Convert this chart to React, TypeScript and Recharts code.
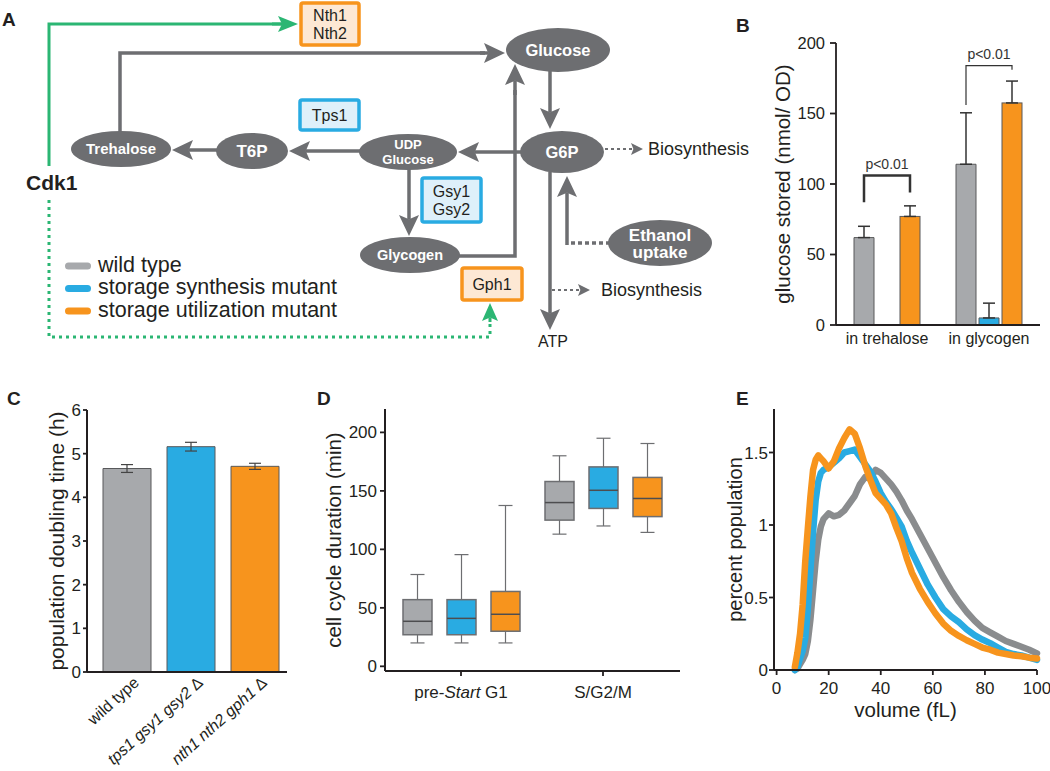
import React from 'react'
import { BarChart, Bar, XAxis, YAxis, ErrorBar, Cell, LineChart, Line } from 'recharts'

const FONT = '"Liberation Sans", Arial, Helvetica, sans-serif'
const INK = '#231f20'
const GRAY = '#a7a9ac'
const BLUE = '#29abe2'
const ORANGE = '#f7941d'
const LINE_GRAY = '#8a8c8e'
const NODE = '#6d6e71'
const GREEN = '#2bb673'
const EDGE = '#58595b'

// legend (shared by all panels)
const groupNames = ['wild type', 'storage synthesis mutant', 'storage utilization mutant']
const groupColors = [GRAY, BLUE, ORANGE]

// B: glucose stored (nmol/ OD)
const storeCats = ['in trehalose', 'in glycogen']
const storeWt = [62, 114]
const storeWtErr = [8, 36.5]
const storeSynth = [null, 5]
const storeSynthErr = [null, 10.5]
const storeUtil = [77, 157.5]
const storeUtilErr = [7.5, 15.5]
// significance brackets (data units): bracket top, left leg end, right leg end
const sigTop = [106, 184]
const sigLeft = [87, 156]
const sigRight = [94, 181]

// C: population doubling time (h)
const strains = ['wild type', 'tps1 gsy1 gsy2 Δ', 'nth1 nth2 gph1 Δ']
const doublingTime = [4.66, 5.16, 4.71]
const doublingErr = [0.09, 0.1, 0.07]

// D: cell cycle duration (min), [min, q1, median, q3, max]
const phases = ['pre-Start G1', 'S/G2/M']
const wtBox = [[20, 27, 38.5, 57, 78.5], [113, 125, 140, 158, 180]]
const synthBox = [[20, 27, 41, 57, 95.5], [120, 135, 150.5, 170.5, 195]]
const utilBox = [[20, 30, 44.5, 64, 137.5], [114.5, 128, 143.5, 161.5, 190.5]]

// E: percent population vs volume (fL)
const volume = [7, 8, 9, 10, 11, 12, 13, 14, 15, 16, 17, 18, 20, 22, 24, 26, 28, 30, 32, 34, 36, 38, 40, 42, 44, 46, 48, 50, 52, 55, 58, 61, 64, 67, 70, 73, 76, 79, 82, 85, 88, 91, 94, 97, 100]
const wtPct = [0, 0.01, 0.04, 0.07, 0.11, 0.2, 0.35, 0.55, 0.75, 0.9, 0.99, 1.04, 1.08, 1.06, 1.07, 1.1, 1.15, 1.2, 1.28, 1.33, 1.32, 1.38, 1.36, 1.32, 1.28, 1.23, 1.17, 1.1, 1.04, 0.94, 0.84, 0.74, 0.64, 0.55, 0.47, 0.4, 0.34, 0.29, 0.26, 0.23, 0.2, 0.18, 0.16, 0.14, 0.115]
const synthPct = [0, 0.02, 0.08, 0.13, 0.22, 0.42, 0.69, 0.95, 1.17, 1.3, 1.36, 1.38, 1.4, 1.43, 1.46, 1.5, 1.51, 1.52, 1.47, 1.42, 1.37, 1.3, 1.22, 1.16, 1.11, 1.05, 0.99, 0.89, 0.81, 0.7, 0.59, 0.5, 0.42, 0.37, 0.33, 0.28, 0.24, 0.21, 0.185, 0.155, 0.125, 0.11, 0.1, 0.085, 0.07]
const utilPct = [0.02, 0.12, 0.25, 0.45, 0.75, 0.98, 1.2, 1.38, 1.45, 1.48, 1.46, 1.44, 1.39, 1.44, 1.53, 1.6, 1.66, 1.63, 1.53, 1.41, 1.31, 1.22, 1.18, 1.14, 1.08, 0.98, 0.89, 0.77, 0.67, 0.56, 0.47, 0.39, 0.32, 0.27, 0.235, 0.205, 0.18, 0.155, 0.14, 0.12, 0.11, 0.1, 0.095, 0.085, 0.08]

const axisStyle = { stroke: INK, strokeWidth: 1.8 }
const tickStyle = (size: number) => ({ fill: INK, fontSize: size, fontFamily: FONT })

const yTitle = (text: string, dx: number, size: number) => (props: any) => {
  const vb = props.viewBox
  const cx = vb.x + dx
  const cy = vb.y + vb.height / 2
  return (
    <text x={cx} y={cy} transform={`rotate(-90 ${cx} ${cy})`} textAnchor="middle" dominantBaseline="central" fontSize={size} fill={INK} fontFamily={FONT}>
      {text}
    </text>
  )
}

const xTitle = (text: string, dy: number, size: number) => (props: any) => {
  const vb = props.viewBox
  return (
    <text x={vb.x + vb.width / 2} y={vb.y + dy} textAnchor="middle" fontSize={size} fill={INK} fontFamily={FONT}>
      {text}
    </text>
  )
}

// ---------- A: pathway diagram ----------
function Arrow({ x1, y1, x2, y2, color = NODE, w = 3.5, head = 21, half = 10, dash }: any) {
  const len = Math.hypot(x2 - x1, y2 - y1)
  const ux = (x2 - x1) / len
  const uy = (y2 - y1) / len
  const bx = x2 - ux * head
  const by = y2 - uy * head
  const nx = bx + ux * head * 0.2
  const ny = by + uy * head * 0.2
  return (
    <g>
      <line x1={x1} y1={y1} x2={nx} y2={ny} stroke={color} strokeWidth={w} strokeDasharray={dash} />
      <polygon points={`${x2},${y2} ${bx - uy * half},${by + ux * half} ${nx},${ny} ${bx + uy * half},${by - ux * half}`} fill={color} />
    </g>
  )
}

function Node({ cx, cy, rx, ry, lines, size, gap }: any) {
  const step = gap ?? size * 1.15
  return (
    <g>
      <ellipse cx={cx} cy={cy} rx={rx} ry={ry} fill={NODE} />
      {lines.map((t: string, i: number) => (
        <text key={t} x={cx} y={cy + (i - (lines.length - 1) / 2) * step + size * 0.36} textAnchor="middle" fill="#fff" fontWeight="bold" fontSize={size}>
          {t}
        </text>
      ))}
    </g>
  )
}

function GeneBox({ x, y, w, h, color, fill, lines }: any) {
  const cx = x + w / 2
  const cy = y + h / 2
  return (
    <g>
      <rect x={x} y={y} width={w} height={h} rx={2} fill={fill} stroke={color} strokeWidth={3.5} />
      {lines.map((t: string, i: number) => (
        <text key={t} x={cx} y={cy + (i - (lines.length - 1) / 2) * 18.5 + 5.8} textAnchor="middle" fontSize={16} fill={INK}>
          {t}
        </text>
      ))}
    </g>
  )
}

function Pathway() {
  const letter = { fontSize: 19, fontWeight: 'bold' as const, fill: INK }
  return (
    <svg width={1050} height={771} style={{ position: 'absolute', left: 0, top: 0 }} fontFamily={FONT}>
      <text x={2} y={26} {...letter}>A</text>
      <text x={736} y={32} {...letter}>B</text>
      <text x={7} y={405} {...letter}>C</text>
      <text x={317} y={405} {...letter}>D</text>
      <text x={736} y={405} {...letter}>E</text>

      {/* Cdk1 -> Nth1/Nth2 */}
      <polyline points="49,166 49,24 282,24" fill="none" stroke={GREEN} strokeWidth={3} />
      <Arrow x1={272} y1={24} x2={298} y2={24} color={GREEN} w={3} head={20} half={8} />
      <GeneBox x={301} y={3} w={58} h={42} color={ORANGE} fill="#fde8d4" lines={['Nth1', 'Nth2']} />

      {/* Cdk1 -> Gph1 */}
      <polyline points="49,200 49,337 490,337 490,322" fill="none" stroke={GREEN} strokeWidth={3} strokeDasharray="3 4" />
      <Arrow x1={490} y1={322} x2={490} y2={303} color={GREEN} w={3} head={18} half={8} />
      <GeneBox x={462} y={268} w={60} h={32} color={ORANGE} fill="#fde8d4" lines={['Gph1']} />

      {/* trehalose -> glucose */}
      <polyline points="120,132 120,53 485,53" fill="none" stroke={NODE} strokeWidth={3.5} />
      <Arrow x1={480} y1={53} x2={505} y2={53} />
      {/* glycogen -> glucose */}
      <polyline points="455,256 515,256 515,90" fill="none" stroke={NODE} strokeWidth={3.5} />
      <Arrow x1={515} y1={95} x2={515} y2={64} />

      <Arrow x1={550} y1={70} x2={550} y2={129} />
      <Arrow x1={522} y1={152} x2={458} y2={152} />
      <Arrow x1={360} y1={151} x2={289} y2={151} />
      <Arrow x1={218} y1={150} x2={172} y2={150} />
      <Arrow x1={409} y1={168} x2={409} y2={236} />
      <Arrow x1={550} y1={172} x2={550} y2={330} />

      <Arrow x1={605} y1={149} x2={643} y2={149} w={2} head={12} half={6} dash="3 3" />
      <Arrow x1={552} y1={290} x2={590} y2={290} w={2} head={12} half={6} dash="3 3" />
      <text x={648} y={155} fontSize={18} fill={INK}>Biosynthesis</text>
      <text x={601} y={296} fontSize={18} fill={INK}>Biosynthesis</text>
      <text x={553} y={347} fontSize={16} textAnchor="middle" fill={INK}>ATP</text>

      {/* ethanol uptake -> G6P */}
      <polyline points="610,243 567,243" fill="none" stroke={NODE} strokeWidth={3.5} strokeDasharray="4 3" />
      <Arrow x1={567} y1={245} x2={567} y2={176} />

      <GeneBox x={300} y={100} w={59} h={30} color={BLUE} fill="#def0fa" lines={['Tps1']} />
      <GeneBox x={422} y={178} w={59} h={44} color={BLUE} fill="#def0fa" lines={['Gsy1', 'Gsy2']} />

      <Node cx={121} cy={149} rx={50} ry={18} lines={['Trehalose']} size={15} />
      <Node cx={252} cy={151} rx={36} ry={18} lines={['T6P']} size={17} />
      <Node cx={408} cy={152} rx={49} ry={18} lines={['UDP', 'Glucose']} size={13} gap={15} />
      <Node cx={558} cy={50} rx={52} ry={22} lines={['Glucose']} size={16.5} />
      <Node cx={562} cy={152} rx={42} ry={21} lines={['G6P']} size={16.5} />
      <Node cx={410} cy={255} rx={50} ry={18} lines={['Glycogen']} size={14.5} />
      <Node cx={660} cy={243} rx={52} ry={23} lines={['Ethanol', 'uptake']} size={17} gap={17} />

      <text x={26} y={190} fontSize={21} fontWeight="bold" fill={INK}>Cdk1</text>

      {groupNames.map((name, i) => (
        <g key={name}>
          <rect x={65} y={262.5 + i * 22.5} width={26} height={7} rx={3.5} fill={groupColors[i]} />
          <text x={98} y={271.5 + i * 22.5} fontSize={21.5} fill={INK}>{name}</text>
        </g>
      ))}
    </svg>
  )
}

// ---------- B ----------
const B_GAP = 3
const storeData = storeCats.map((cat, i) => ({
  cat,
  wt: storeWt[i],
  wtErr: [0, storeWtErr[i]],
  synth: storeSynth[i],
  synthErr: storeSynth[i] == null ? null : [0, storeSynthErr[i]],
  util: storeUtil[i],
  utilErr: [0, storeUtilErr[i]],
}))

function UtilBarWithBracket(props: any) {
  const { x, y, width, height, payload } = props
  const i = storeCats.indexOf(payload.cat)
  const base = y + height
  const ppu = height / payload.util
  const py = (v: number) => base - v * ppu
  const xr = x + width / 2
  const xl = xr - 2 * (width + B_GAP)
  return (
    <g>
      <rect x={x} y={y} width={width} height={height} fill={ORANGE} stroke={EDGE} strokeWidth={1} />
      <polyline
        points={`${xl},${py(sigLeft[i])} ${xl},${py(sigTop[i])} ${xr},${py(sigTop[i])} ${xr},${py(sigRight[i])}`}
        fill="none"
        stroke="#333"
        strokeWidth={i === 0 ? 2.5 : 1.2}
      />
      <text x={(xl + xr) / 2} y={py(sigTop[i]) - 7} textAnchor="middle" fontSize={14} fill="#333" fontFamily={FONT}>
        p&lt;0.01
      </text>
    </g>
  )
}

function StoragePanel() {
  return (
    <BarChart width={290} height={370} data={storeData} margin={{ top: 43, right: 10, bottom: 15, left: 0 }} barGap={B_GAP} barSize={20}>
      <XAxis dataKey="cat" height={30} tickLine={false} tickSize={0} tickMargin={8} interval={0} axisLine={axisStyle} tick={tickStyle(16)} />
      <YAxis
        width={76}
        domain={[0, 200]}
        ticks={[0, 50, 100, 150, 200]}
        tickSize={6}
        tickMargin={5}
        axisLine={axisStyle}
        tickLine={axisStyle}
        tick={tickStyle(16.5)}
        label={yTitle('glucose stored (nmol/ OD)', 22, 20.5)}
      />
      <Bar dataKey="wt" fill={GRAY} stroke={EDGE} strokeWidth={1} isAnimationActive={false}>
        <ErrorBar dataKey="wtErr" width={6} stroke="#333" strokeWidth={1.5} isAnimationActive={false} />
      </Bar>
      <Bar dataKey="synth" fill={BLUE} stroke={EDGE} strokeWidth={1} isAnimationActive={false}>
        <ErrorBar dataKey="synthErr" width={6} stroke="#333" strokeWidth={1.5} isAnimationActive={false} />
      </Bar>
      <Bar dataKey="util" fill={ORANGE} shape={(p: any) => <UtilBarWithBracket {...p} />} isAnimationActive={false}>
        <ErrorBar dataKey="utilErr" width={6} stroke="#333" strokeWidth={1.5} isAnimationActive={false} />
      </Bar>
    </BarChart>
  )
}

// ---------- C ----------
const doublingData = strains.map((strain, i) => ({ strain, time: doublingTime[i], err: doublingErr[i] }))

function StrainTick({ x, y, payload }: any) {
  const label: string = payload.value
  const mutant = label.endsWith('Δ')
  const name = mutant ? label.slice(0, -2) : label
  const px = x + 13
  const py = y + 12
  return (
    <text x={px} y={py} transform={`rotate(-42 ${px} ${py})`} textAnchor="end" fontSize={16} fill={INK} fontFamily={FONT}>
      {mutant ? (
        <>
          <tspan fontStyle="italic">{name}</tspan>
          <tspan> Δ</tspan>
        </>
      ) : (
        name
      )}
    </text>
  )
}

function DoublingPanel() {
  return (
    <BarChart width={300} height={391} data={doublingData} margin={{ top: 30, right: 13, bottom: 0, left: 0 }} barSize={48}>
      <XAxis
        dataKey="strain"
        height={99}
        padding={{ left: 8, right: 0 }}
        tickLine={false}
        tickSize={0}
        tickMargin={0}
        interval={0}
        axisLine={{ stroke: INK, strokeWidth: 2 }}
        tick={(p: any) => <StrainTick {...p} />}
      />
      <YAxis
        width={87}
        domain={[0, 6]}
        ticks={[0, 1, 2, 3, 4, 5, 6]}
        tickSize={4}
        tickMargin={2}
        axisLine={{ stroke: INK, strokeWidth: 2 }}
        tickLine={axisStyle}
        tick={tickStyle(17)}
        label={yTitle('population doubling time (h)', 56, 21)}
      />
      <Bar dataKey="time" stroke={EDGE} strokeWidth={1} isAnimationActive={false}>
        {doublingData.map((d, i) => (
          <Cell key={d.strain} fill={groupColors[i]} />
        ))}
        <ErrorBar dataKey="err" width={6} stroke="#444" strokeWidth={1.2} isAnimationActive={false} />
      </Bar>
    </BarChart>
  )
}

// ---------- D ----------
const boxData = phases.map((phase, i) => ({ phase, wt: wtBox[i], synth: synthBox[i], util: utilBox[i] }))

const boxShape = (key: 'wt' | 'synth' | 'util', color: string) => (props: any) => {
  const { x, y, width, height, payload } = props
  const [lo, q1, med, q3, hi] = payload[key]
  const top = Math.min(y, y + height)
  const bottom = Math.max(y, y + height)
  const ppu = (bottom - top) / (hi - lo)
  const py = (v: number) => bottom - (v - lo) * ppu
  const cx = x + width / 2
  return (
    <g>
      <line x1={cx} x2={cx} y1={py(hi)} y2={py(lo)} stroke="#6d6e71" strokeWidth={1.2} />
      <line x1={cx - 7} x2={cx + 7} y1={py(hi)} y2={py(hi)} stroke="#6d6e71" strokeWidth={1.2} />
      <line x1={cx - 7} x2={cx + 7} y1={py(lo)} y2={py(lo)} stroke="#6d6e71" strokeWidth={1.2} />
      <rect x={x} y={py(q3)} width={width} height={py(q1) - py(q3)} fill={color} stroke="#6d6e71" strokeWidth={1.5} />
      <line x1={x} x2={x + width} y1={py(med)} y2={py(med)} stroke="#4d4d4f" strokeWidth={1.5} />
    </g>
  )
}

function PhaseTick({ x, y, payload }: any) {
  const v: string = payload.value
  return (
    <text x={x} y={y} dy="0.71em" textAnchor="middle" fontSize={17} fill={INK} fontFamily={FONT}>
      {v.startsWith('pre-Start') ? (
        <>
          <tspan>pre-</tspan>
          <tspan fontStyle="italic">Start</tspan>
          <tspan>{v.slice(9)}</tspan>
        </>
      ) : (
        v
      )}
    </text>
  )
}

function DurationPanel() {
  return (
    <BarChart width={420} height={391} data={boxData} margin={{ top: 29, right: 20, bottom: 0, left: 0 }} barSize={29} barGap={15}>
      <XAxis
        dataKey="phase"
        height={100}
        padding={{ left: 5, right: 6 }}
        tickSize={5}
        tickMargin={10}
        interval={0}
        axisLine={{ stroke: INK, strokeWidth: 2 }}
        tickLine={axisStyle}
        tick={(p: any) => <PhaseTick {...p} />}
      />
      <YAxis
        width={105}
        domain={[-4, 220]}
        ticks={[0, 50, 100, 150, 200]}
        tickSize={5}
        tickMargin={3}
        axisLine={{ stroke: INK, strokeWidth: 2 }}
        tickLine={axisStyle}
        tick={tickStyle(17)}
        label={yTitle('cell cycle duration (min)', 53, 20.5)}
      />
      <Bar dataKey={(d: any) => [d.wt[0], d.wt[4]]} shape={boxShape('wt', GRAY)} isAnimationActive={false} />
      <Bar dataKey={(d: any) => [d.synth[0], d.synth[4]]} shape={boxShape('synth', BLUE)} isAnimationActive={false} />
      <Bar dataKey={(d: any) => [d.util[0], d.util[4]]} shape={boxShape('util', ORANGE)} isAnimationActive={false} />
    </BarChart>
  )
}

// ---------- E ----------
const pctData = volume.map((v, i) => ({ v, wt: wtPct[i], synth: synthPct[i], util: utilPct[i] }))

function VolumePanel() {
  return (
    <LineChart width={330} height={391} data={pctData} margin={{ top: 29, right: 13, bottom: 0, left: 0 }}>
      <XAxis
        dataKey="v"
        type="number"
        domain={[-1, 100]}
        ticks={[0, 20, 40, 60, 80, 100]}
        height={101}
        tickSize={5}
        tickMargin={7}
        axisLine={{ stroke: INK, strokeWidth: 2 }}
        tickLine={axisStyle}
        tick={tickStyle(17)}
        label={xTitle('volume (fL)', 47, 20.5)}
      />
      <YAxis
        width={54}
        domain={[0, 1.8]}
        ticks={[0, 0.5, 1, 1.5]}
        tickSize={5}
        tickMargin={1}
        axisLine={{ stroke: INK, strokeWidth: 2 }}
        tickLine={axisStyle}
        tick={tickStyle(17)}
        label={yTitle('percent population', 15, 20)}
      />
      <Line dataKey="wt" stroke={LINE_GRAY} strokeWidth={6.5} dot={false} strokeLinejoin="round" strokeLinecap="round" isAnimationActive={false} />
      <Line dataKey="synth" stroke={BLUE} strokeWidth={6.5} dot={false} strokeLinejoin="round" strokeLinecap="round" isAnimationActive={false} />
      <Line dataKey="util" stroke={ORANGE} strokeWidth={6.5} dot={false} strokeLinejoin="round" strokeLinecap="round" isAnimationActive={false} />
    </LineChart>
  )
}

export default function App() {
  return (
    <div style={{ position: 'absolute', left: 0, top: 0, width: 1050, height: 771, background: '#fff', fontFamily: FONT, overflow: 'hidden' }}>
      <Pathway />
      <div style={{ position: 'absolute', left: 760, top: 0 }}>
        <StoragePanel />
      </div>
      <div style={{ position: 'absolute', left: 0, top: 380 }}>
        <DoublingPanel />
      </div>
      <div style={{ position: 'absolute', left: 280, top: 380 }}>
        <DurationPanel />
      </div>
      <div style={{ position: 'absolute', left: 720, top: 380 }}>
        <VolumePanel />
      </div>
    </div>
  )
}
